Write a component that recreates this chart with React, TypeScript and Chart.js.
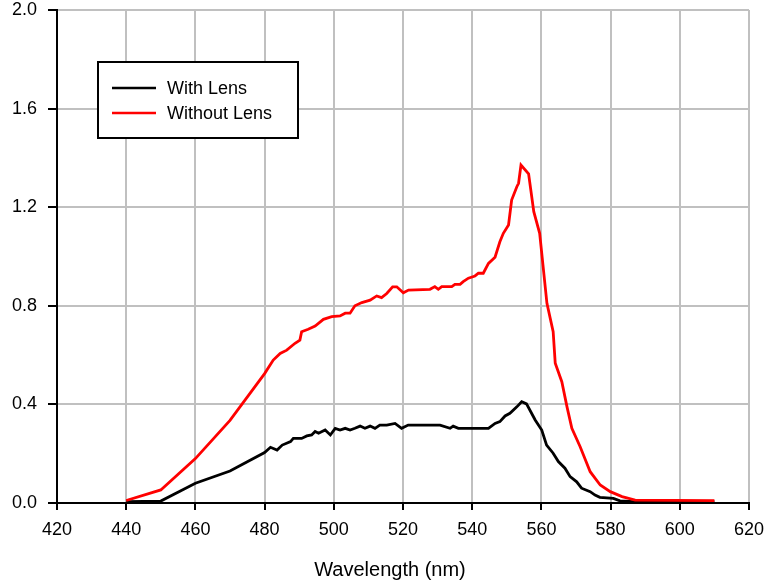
import React, { useEffect, useRef } from "react";
import { Chart, registerables } from "chart.js";

Chart.register(...registerables);

const withLensX = [440, 450, 460, 470, 480, 481.7, 483.6, 485.1, 487.5, 488.3, 490.7, 492.2, 493.6, 494.6, 495.6, 497.5, 499, 500.4, 501.8, 503.3, 504.7, 506.1, 507.6, 509, 510.5, 511.9, 513.3, 515.3, 517.7, 519.6, 521.5, 525, 530.7, 533.6, 534.5, 536, 544.7, 546.6, 548, 549.5, 550.9, 552.9, 554.3, 555.7, 558.2, 560.1, 561.5, 563.4, 564.9, 566.8, 568.3, 570.2, 571.6, 574.1, 575.5, 576.9, 580.8, 582.7, 587, 610];
const withLensY = [0.005, 0.008, 0.08, 0.13, 0.205, 0.226, 0.215, 0.235, 0.249, 0.262, 0.262, 0.272, 0.276, 0.29, 0.283, 0.296, 0.276, 0.303, 0.296, 0.303, 0.296, 0.303, 0.312, 0.303, 0.312, 0.303, 0.316, 0.316, 0.323, 0.303, 0.316, 0.316, 0.316, 0.303, 0.312, 0.303, 0.303, 0.323, 0.33, 0.353, 0.364, 0.39, 0.411, 0.402, 0.337, 0.296, 0.235, 0.202, 0.168, 0.141, 0.107, 0.086, 0.06, 0.046, 0.032, 0.023, 0.019, 0.009, 0.005, 0.005];

const withoutLensX = [440, 450, 460, 470, 480, 482.5, 484.5, 486.4, 488.8, 490.2, 490.7, 492.6, 494.6, 497, 499.4, 501.8, 503.3, 504.7, 506.1, 508.1, 510.5, 512.4, 513.8, 515.3, 517, 518.2, 520.1, 521.6, 527.8, 529.2, 530.2, 531.2, 534.1, 535, 536.5, 537.4, 538.9, 540.8, 541.8, 543.2, 544.7, 546.6, 548, 549, 550.5, 551.4, 552.9, 553.4, 554.1, 556.3, 557.8, 559.5, 561.6, 563.4, 564, 565.9, 567.4, 568.8, 571.2, 574.1, 577, 579.9, 583.3, 587.1, 610];
const withoutLensY = [0.01, 0.053, 0.18, 0.335, 0.525, 0.58, 0.607, 0.62, 0.648, 0.661, 0.695, 0.705, 0.718, 0.745, 0.756, 0.759, 0.77, 0.77, 0.8, 0.813, 0.823, 0.84, 0.833, 0.85, 0.877, 0.877, 0.853, 0.864, 0.867, 0.878, 0.867, 0.878, 0.878, 0.887, 0.887, 0.898, 0.912, 0.921, 0.932, 0.932, 0.972, 0.997, 1.06, 1.094, 1.128, 1.229, 1.283, 1.297, 1.371, 1.335, 1.182, 1.094, 0.81, 0.695, 0.567, 0.492, 0.39, 0.303, 0.228, 0.127, 0.073, 0.046, 0.026, 0.012, 0.01];

const seriesNames = ["With Lens", "Without Lens"];
const seriesColors = ["#000000", "#ff0000"];
const xTitle = "Wavelength (nm)";

const FONT = "'Liberation Sans', Arial, sans-serif";

const legendPlugin = {
  id: "boxLegend",
  afterDraw(chart: any) {
    const ctx = chart.ctx;
    ctx.save();
    const x0 = 98, y0 = 62, w = 200, h = 76;
    ctx.fillStyle = "#ffffff";
    ctx.fillRect(x0, y0, w, h);
    ctx.strokeStyle = "#000";
    ctx.lineWidth = 2;
    ctx.strokeRect(x0, y0, w, h);
    const rows = [88, 113];
    ctx.font = `18px ${FONT}`;
    ctx.textBaseline = "middle";
    ctx.textAlign = "left";
    rows.forEach((ry, i) => {
      ctx.strokeStyle = seriesColors[i];
      ctx.lineWidth = 2.5;
      ctx.beginPath();
      ctx.moveTo(112, ry);
      ctx.lineTo(156, ry);
      ctx.stroke();
      ctx.fillStyle = "#000";
      ctx.fillText(seriesNames[i], 167, ry + 1);
    });
    // x axis title, centred where the original places it
    ctx.font = `20px ${FONT}`;
    ctx.textAlign = "center";
    ctx.fillStyle = "#000";
    ctx.fillText(xTitle, 390, 570);
    ctx.restore();
  },
};

export default function App() {
  const ref = useRef<HTMLCanvasElement>(null);
  useEffect(() => {
    if (!ref.current) return;
    const mk = (xs: number[], ys: number[]) => xs.map((x, i) => ({ x, y: ys[i] }));
    const chart = new Chart(ref.current, {
      type: "line",
      data: {
        datasets: [
          {
            label: seriesNames[0],
            data: mk(withLensX, withLensY),
            borderColor: seriesColors[0],
            borderWidth: 2.8,
            pointRadius: 0,
            tension: 0,
            order: 1,
          },
          {
            label: seriesNames[1],
            data: mk(withoutLensX, withoutLensY),
            borderColor: seriesColors[1],
            borderWidth: 2.8,
            pointRadius: 0,
            tension: 0,
            order: 0,
          },
        ],
      },
      options: {
        animation: false,
        responsive: false,
        maintainAspectRatio: false,
        layout: { padding: { left: 0, top: 10, right: 16, bottom: 0 } },
        plugins: { legend: { display: false }, tooltip: { enabled: false } },
        scales: {
          x: {
            type: "linear",
            min: 420,
            max: 620,
            ticks: { stepSize: 20, color: "#000", font: { family: FONT, size: 18 }, padding: 9, maxRotation: 0 },
            grid: { color: "#c0c0c0", lineWidth: 2, tickColor: "#000", tickLength: 7, tickWidth: 2 },
            border: { display: true, color: "#000", width: 2 },
            title: { display: false, text: xTitle },
            afterFit: (s: any) => { s.height = 84; s.paddingLeft = 0; s.paddingRight = 0; },
          },
          y: {
            type: "linear",
            min: 0,
            max: 2,
            ticks: { stepSize: 0.4, color: "#000", font: { family: FONT, size: 18 }, padding: 11, callback: (v: any) => Number(v).toFixed(1) },
            grid: { color: "#c0c0c0", lineWidth: 2, tickColor: "#000", tickLength: 9, tickWidth: 2 },
            border: { display: true, color: "#000", width: 2 },
            afterFit: (s: any) => { s.width = 57; s.paddingTop = 0; s.paddingBottom = 0; },
          },
        },
      },
      plugins: [legendPlugin],
    });
    return () => chart.destroy();
  }, []);
  return (
    <div style={{ position: "fixed", left: 0, top: 0, width: 765, height: 587, background: "#fff" }}>
      <canvas ref={ref} width={765} height={587} style={{ width: 765, height: 587 }} />
    </div>
  );
}
